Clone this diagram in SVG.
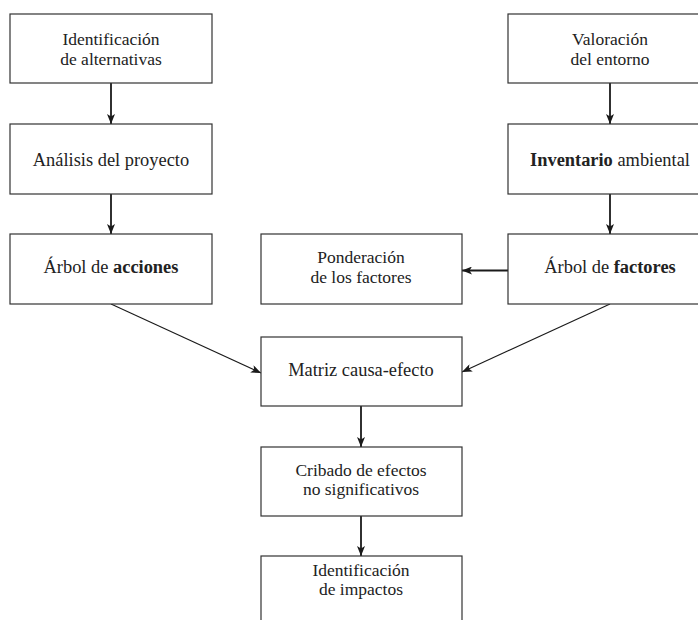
<svg xmlns="http://www.w3.org/2000/svg" width="698" height="620" viewBox="0 0 698 620">
<defs>
<marker id="ah" viewBox="0 0 10 8" refX="10" refY="4" markerWidth="10" markerHeight="8" markerUnits="userSpaceOnUse" orient="auto">
<path d="M0,0 L10,4 L0,8 L2.5,4 z" fill="#1a1a1a"/>
</marker>
</defs>
<style>
.box{fill:#fff;stroke:#333;stroke-width:1.2}
.t{font-family:"Liberation Serif","Times New Roman",serif;font-size:18.4px;fill:#222;text-anchor:middle}
.t2{font-size:17.5px}
.b{font-weight:bold}
.c{stroke:#1a1a1a;fill:none}
.v{stroke-width:1.8}
.d{stroke-width:1.1}
</style>
<rect width="698" height="620" fill="#fff"/>
<g id="connectors">
<line class="c v" x1="111" y1="83" x2="111" y2="124" marker-end="url(#ah)"/>
<line class="c v" x1="111" y1="194" x2="111" y2="234" marker-end="url(#ah)"/>
<line class="c v" x1="610" y1="83" x2="610" y2="124" marker-end="url(#ah)"/>
<line class="c v" x1="610" y1="194" x2="610" y2="234" marker-end="url(#ah)"/>
<line class="c v" x1="508" y1="270.5" x2="462" y2="270.5" marker-end="url(#ah)"/>
<line class="c d" x1="111" y1="304" x2="261" y2="373" marker-end="url(#ah)"/>
<line class="c d" x1="610" y1="304" x2="462" y2="372" marker-end="url(#ah)"/>
<line class="c v" x1="361" y1="406" x2="361" y2="447" marker-end="url(#ah)"/>
<line class="c v" x1="361" y1="516" x2="361" y2="556" marker-end="url(#ah)"/>
</g>
<g id="n1"><rect class="box" x="10" y="14" width="202" height="69"/>
<text class="t t2" x="111" y="45">Identificación</text><text class="t t2" x="111" y="64.5">de alternativas</text></g>
<g id="n2"><rect class="box" x="10" y="124" width="202" height="70"/>
<text class="t" x="111" y="166">Análisis del proyecto</text></g>
<g id="n3"><rect class="box" x="10" y="234" width="202" height="70"/>
<text class="t" x="111" y="273">Árbol de <tspan class="b">acciones</tspan></text></g>
<g id="n4"><rect class="box" x="508" y="14" width="204" height="69"/>
<text class="t t2" x="610" y="45">Valoración</text><text class="t t2" x="610" y="64.5">del entorno</text></g>
<g id="n5"><rect class="box" x="508" y="124" width="204" height="70"/>
<text class="t" x="610" y="166"><tspan class="b">Inventario</tspan> ambiental</text></g>
<g id="n6"><rect class="box" x="508" y="234" width="204" height="70"/>
<text class="t" x="610" y="273">Árbol de <tspan class="b">factores</tspan></text></g>
<g id="n7"><rect class="box" x="261" y="234" width="201" height="70"/>
<text class="t t2" x="361" y="263">Ponderación</text><text class="t t2" x="361" y="282.5">de los factores</text></g>
<g id="n8"><rect class="box" x="261" y="337" width="201" height="69"/>
<text class="t" x="361" y="376">Matriz causa-efecto</text></g>
<g id="n9"><rect class="box" x="261" y="447" width="201" height="69"/>
<text class="t t2" x="361" y="475.5">Cribado de efectos</text><text class="t t2" x="361" y="495">no significativos</text></g>
<g id="n10"><rect class="box" x="261" y="556" width="201" height="80"/>
<text class="t t2" x="361" y="575.5">Identificación</text><text class="t t2" x="361" y="595">de impactos</text></g>
</svg>
